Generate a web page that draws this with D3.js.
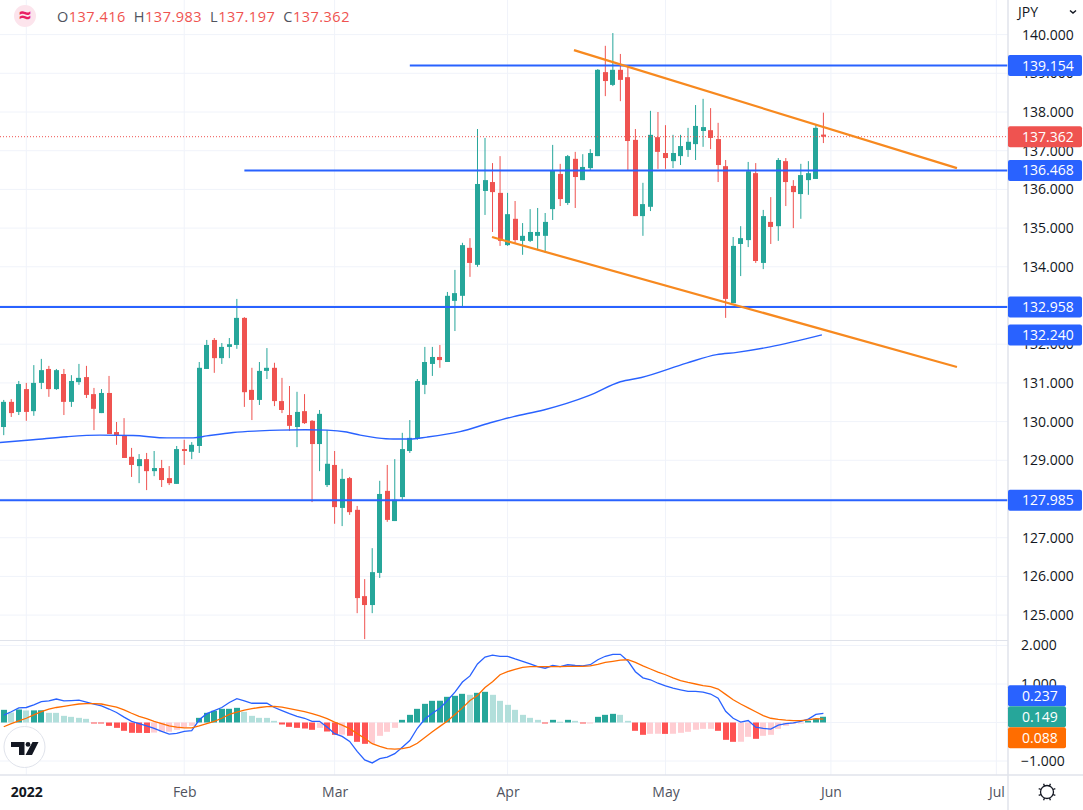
<!DOCTYPE html>
<html>
<head>
<meta charset="utf-8">
<title>JPY</title>
<script src="https://cdn.jsdelivr.net/npm/d3@7"></script>
<style>
html, body { margin: 0; padding: 0; background: #fff; }
svg { display: block; }
text { font-family: "Open Sans", sans-serif; }
</style>
</head>
<body>
<div id="chart"></div>
<script>
// Daily bars, first bar is three sessions before 3 Jan 2022
var firstBar = -3;
var opens = [
	129.86,130.51,130.25,130.84,130.27,131.00,131.36,130.84,131.23,130.51,
	131.02,131.15,130.71,130.22,130.74,129.73,129.65,129.09,128.85,129.03,
	128.72,128.80,128.54,128.39,129.29,129.22,129.37,131.36,132.11,131.64,
	131.93,131.98,132.68,130.82,130.56,131.31,131.39,130.53,130.17,129.86,
	130.27,130.02,129.42,128.36,128.88,127.77,128.54,127.72,125.49,125.26,
	126.09,128.21,127.43,128.05,129.24,129.55,130.95,131.49,131.67,131.54,
	133.12,133.25,134.49,134.05,135.96,136.19,135.91,134.56,135.24,134.67,
	134.67,134.80,134.80,135.49,136.40,135.65,136.79,136.24,136.55,136.86,
	139.03,138.70,139.09,138.90,137.28,135.31,135.55,137.35,136.94,136.73,
	136.86,137.02,137.17,137.51,137.53,137.30,136.60,133.06,134.59,134.69,
	136.42,134.10,135.16,135.05,136.73,136.09,135.88,136.24,136.27,137.416];
var highs = [
	130.56,130.58,131.05,131.00,131.46,131.62,131.44,131.36,131.36,131.20,
	131.49,131.44,130.87,130.84,131.18,129.99,130.09,129.32,129.16,129.19,
	129.24,129.01,128.85,129.37,129.53,129.47,131.54,132.11,132.16,132.03,
	132.16,133.17,132.70,131.39,131.54,131.90,131.52,131.13,130.92,130.77,
	130.71,130.04,130.30,129.78,129.24,128.78,128.57,127.82,125.93,126.73,
	128.47,128.88,129.03,129.71,130.04,131.10,131.93,131.93,131.98,133.35,
	133.92,134.62,134.74,137.56,137.33,136.68,136.86,135.91,135.70,135.13,
	135.49,135.52,135.39,137.15,136.66,136.89,136.97,136.91,137.04,139.11,
	139.71,140.04,139.50,139.19,137.56,136.17,138.03,138.00,137.66,137.41,
	137.41,137.59,138.18,138.34,138.10,137.72,136.76,134.77,135.05,136.71,
	136.68,135.47,135.80,136.81,136.81,136.24,136.66,136.73,137.69,137.983];
var lows = [
	129.65,130.12,130.17,130.02,130.15,130.84,130.64,130.82,130.17,130.38,
	130.95,130.61,129.78,130.22,129.68,129.40,129.06,128.57,128.41,128.23,
	128.59,128.31,128.36,128.39,128.88,129.03,129.19,131.36,131.26,131.49,
	131.64,131.88,130.38,130.04,130.43,131.10,130.40,130.22,129.76,129.34,
	129.94,127.92,128.72,128.31,127.36,127.30,127.59,125.05,124.38,125.05,
	125.96,127.41,127.43,127.98,129.19,129.53,130.71,131.18,131.39,131.54,
	132.34,132.96,133.74,134.00,135.34,134.90,134.54,134.54,134.59,134.31,
	134.64,134.43,134.36,135.21,135.57,135.60,135.52,136.24,136.50,136.86,
	138.41,138.67,138.28,136.50,135.31,134.80,135.44,136.53,136.53,136.55,
	136.63,136.84,136.76,137.10,137.04,136.19,132.68,133.06,133.76,134.51,
	134.10,133.94,134.59,134.67,135.57,135.00,135.24,135.86,136.27,137.197];
var closes = [
	130.51,130.22,130.97,130.25,131.00,131.33,130.84,131.33,130.51,131.05,
	131.13,130.69,130.33,130.74,129.68,129.63,129.06,128.88,129.03,128.72,
	128.80,128.49,128.41,129.29,129.24,129.40,131.39,131.98,131.64,131.93,
	132.00,132.68,130.76,130.56,131.31,131.39,130.53,130.30,129.89,130.25,
	129.96,129.42,130.20,128.91,127.79,128.52,127.66,125.44,125.26,126.11,
	128.13,127.46,127.98,129.29,129.58,131.05,131.54,131.67,131.59,133.25,
	133.32,134.56,134.10,136.14,136.24,135.93,134.67,135.36,134.69,134.80,
	134.90,134.90,135.16,136.48,135.75,136.86,136.32,136.58,136.94,139.09,
	138.80,139.09,138.83,137.25,135.31,135.62,137.41,136.97,136.81,136.94,
	137.12,137.23,137.64,137.61,137.33,136.63,133.17,134.54,134.74,136.47,
	134.15,135.31,135.03,136.76,136.19,135.93,136.37,136.42,137.59,137.362];

// Moving average on the price pane, read at the bends of the curve
var emaBars = [-3.5,0.9,5.4,9.8,14.2,18.7,22.2,24,27.5,31,33.7,37.1,40,42.6,44.4,46.6,48.8,51,53.3,57.7,61.7,64.8,68.8,74.8,79,81.8,87.8,91.8,94.5,98.9,105.8];
var emaValues = [129.46,129.53,129.61,129.65,129.64,129.58,129.58,129.63,129.72,129.76,129.78,129.79,129.78,129.73,129.65,129.58,129.55,129.55,129.60,129.74,129.97,130.13,130.30,130.67,131.03,131.14,131.51,131.73,131.79,131.93,132.24];

// MACD pane, one value per bar
var macdHist = [
	.329,.260,.338,.312,.315,.318,.251,.250,.173,.147,
	.121,.095,-.015,-.020,-.087,-.139,-.216,-.268,-.270,-.272,
	-.262,-.242,-.240,-.190,-.121,-.087,.121,.251,.303,.355,
	.356,.381,.277,.173,.121,.120,.043,-.052,-.113,-.139,
	-.156,-.190,-.139,-.234,-.320,-.315,-.346,-.502,-.554,-.550,
	-.346,-.242,-.139,.069,.199,.355,.485,.563,.565,.667,
	.693,.745,.719,.771,.797,.719,.563,.459,.329,.199,
	.121,.069,-.010,.069,.020,.069,.043,-.010,-.008,.147,
	.199,.225,.199,.043,-.216,-.320,-.294,-.292,-.296,-.292,
	-.268,-.242,-.190,-.165,-.164,-.216,-.450,-.502,-.500,-.372,
	-.424,-.346,-.320,-.165,-.087,-.035,-.009,.043,.095,.149];
var macdLine = [
	.19,.28,.38,.39,.46,.54,.56,.61,.56,.57,
	.58,.53,.48,.43,.35,.26,.14,.03,-.03,-.09,
	-.15,-.23,-.30,-.28,-.23,-.21,.07,.23,.31,.39,
	.52,.62,.56,.50,.50,.50,.39,.31,.23,.16,
	.11,.03,.03,-.12,-.29,-.36,-.49,-.75,-.97,-1.05,
	-.94,-.90,-.81,-.64,-.47,-.15,.09,.24,.37,.57,
	.79,1.05,1.21,1.52,1.70,1.75,1.72,1.72,1.65,1.59,
	1.52,1.45,1.41,1.48,1.45,1.50,1.48,1.47,1.50,1.63,
	1.72,1.77,1.77,1.60,1.32,1.16,1.11,1.02,.95,.89,
	.85,.81,.81,.79,.74,.63,.29,.11,.01,.05,
	-.12,-.15,-.17,-.07,-.03,-.01,.03,.09,.21,.237];
var signalLine = [
	-.11,-.03,.04,.11,.20,.28,.35,.39,.42,.45,
	.48,.49,.49,.48,.44,.40,.33,.24,.16,.10,
	.03,-.03,-.09,-.12,-.14,-.14,-.09,-.03,.03,.11,
	.21,.27,.32,.36,.39,.41,.42,.40,.36,.32,
	.28,.23,.17,.10,.01,-.07,-.16,-.29,-.41,-.55,
	-.62,-.68,-.69,-.68,-.64,-.54,-.39,-.24,-.10,.04,
	.21,.38,.57,.70,.91,1.06,1.24,1.32,1.38,1.43,
	1.45,1.45,1.45,1.45,1.45,1.46,1.46,1.46,1.47,1.51,
	1.56,1.59,1.62,1.63,1.56,1.47,1.39,1.31,1.24,1.16,
	1.09,1.04,1.00,.96,.93,.87,.73,.59,.48,.38,
	.28,.18,.11,.08,.06,.05,.05,.07,.10,.088];

// Drawn levels and trend lines, as they sit on the price scale
var levelValues = [139.20,136.49,132.96,127.97];
var levelStarts = [51,29,-4,-4];
var levelLabels = ["139.154","136.468","132.958","127.985"];
var trendBars = [[72.83,123.76],[61.93,123.76]];
var trendValues = [[139.60,136.55],[134.77,131.41]];
var lastClose = 137.362;
var emaLast = 132.240;
var macdLabels = ["0.237","0.149","0.088"];

// Grid rows, and the axis ticks that the labels do not cover
var priceGrid = [125,126,127,128,129,130,131,132,133,134,135,136,137,138,139,140];
var priceTicks = [125,126,127,129,130,131,132,134,135,136,137,138,139,140];
var macdGrid = [-1,0,1,2];
var macdTicks = [-1,1,2];
var monthBars = [0,21,41,64,85,107,129];
var monthNames = ["2022","Feb","Mar","Apr","May","Jun","Jul"];
var ohlcNames = ["O","H","L","C"];
var ohlcValues = ["137.416","137.983","137.197","137.362"];

var width = 1083, height = 810;
var axisX = 1008, timeY = 775, paneY = 640;
var upColor = "#26a69a", downColor = "#ef5350", blue = "#2962ff", orange = "#ff6d00", trendColor = "#f7891f";
var gridColor = "#f0f3fa", borderColor = "#e0e3eb", tickColor = "#131722";

var x = d3.scaleLinear().domain([0,106]).range([26.3,823.4]);
var y = d3.scaleLinear().domain([125,140]).range([615.1,34.6]);
var yMacd = d3.scaleLinear().domain([-1,2]).range([761,645.5]);

var svg = d3.select("#chart")
	.append("svg")
	.attr("width", width)
	.attr("height", height);

// Rows of the bars, built from the arrays above
var bars = opens.map(function(o, i){
	return {bar: firstBar + i, open: o, high: highs[i], low: lows[i], close: closes[i], hist: macdHist[i], macd: macdLine[i], signal: signalLine[i]};
});

// Grid
var grid = svg.append("g").attr("stroke", gridColor).attr("stroke-width", 1);
grid.selectAll("line.v").data(monthBars).enter().append("line")
	.attr("class", "v")
	.attr("x1", function(d){ return x(d); })
	.attr("x2", function(d){ return x(d); })
	.attr("y1", 0).attr("y2", timeY);
grid.selectAll("line.p").data(priceGrid).enter().append("line")
	.attr("class", "p")
	.attr("x1", 0).attr("x2", axisX)
	.attr("y1", function(d){ return y(d); })
	.attr("y2", function(d){ return y(d); });
grid.selectAll("line.m").data(macdGrid).enter().append("line")
	.attr("class", "m")
	.attr("x1", 0).attr("x2", axisX)
	.attr("y1", function(d){ return yMacd(d); })
	.attr("y2", function(d){ return yMacd(d); });

// Candles
var candleColor = function(d){ return d.close >= d.open ? upColor : downColor; };
svg.append("g").selectAll("line").data(bars).enter().append("line")
	.attr("x1", function(d){ return x(d.bar); })
	.attr("x2", function(d){ return x(d.bar); })
	.attr("y1", function(d){ return y(d.high); })
	.attr("y2", function(d){ return y(d.low); })
	.attr("stroke", candleColor)
	.attr("stroke-width", 1);
svg.append("g").selectAll("rect").data(bars).enter().append("rect")
	.attr("x", function(d){ return Math.round(x(d.bar) - 2.5); })
	.attr("width", 5)
	.attr("y", function(d){ return y(Math.max(d.open, d.close)); })
	.attr("height", function(d){ return Math.max(1, Math.abs(y(d.open) - y(d.close))); })
	.attr("fill", candleColor);

// Moving average
var emaPoints = emaBars.map(function(b, i){ return [b, emaValues[i]]; });
svg.append("path")
	.datum(emaPoints)
	.attr("d", d3.line().x(function(d){ return x(d[0]); }).y(function(d){ return y(d[1]); }).curve(d3.curveMonotoneX))
	.attr("fill", "none")
	.attr("stroke", blue)
	.attr("stroke-width", 1.4);

// Last price line
svg.append("line")
	.attr("x1", 0).attr("x2", axisX)
	.attr("y1", y(lastClose)).attr("y2", y(lastClose))
	.attr("stroke", downColor)
	.attr("stroke-width", 1)
	.attr("stroke-dasharray", "1,2");

// Horizontal levels
svg.append("g").selectAll("line").data(levelValues).enter().append("line")
	.attr("x1", function(d, i){ return x(levelStarts[i]); })
	.attr("x2", axisX)
	.attr("y1", function(d){ return y(d); })
	.attr("y2", function(d){ return y(d); })
	.attr("stroke", blue)
	.attr("stroke-width", 2);

// Trend lines
svg.append("g").selectAll("line").data(trendBars).enter().append("line")
	.attr("x1", function(d){ return x(d[0]); })
	.attr("x2", function(d){ return x(d[1]); })
	.attr("y1", function(d, i){ return y(trendValues[i][0]); })
	.attr("y2", function(d, i){ return y(trendValues[i][1]); })
	.attr("stroke", trendColor)
	.attr("stroke-width", 2.2);

// Histogram, tone depends on the sign and on the move from the bar before
var histColor = function(d, i){
	var prev = i > 0 ? macdHist[i-1] : -9;
	if(d.hist >= 0){ return d.hist >= prev ? "#26a69a" : "#b2dfdb"; }
	return d.hist > prev ? "#ffcdd2" : "#ff5252";
};
svg.append("g").selectAll("rect").data(bars).enter().append("rect")
	.attr("x", function(d){ return Math.round(x(d.bar) - 3); })
	.attr("width", 6)
	.attr("y", function(d){ return Math.min(yMacd(d.hist), yMacd(0)); })
	.attr("height", function(d){ return Math.max(1, Math.abs(yMacd(d.hist) - yMacd(0))); })
	.attr("fill", histColor);

var macdPath = d3.line().x(function(d){ return x(d.bar); });
svg.append("path")
	.datum(bars)
	.attr("d", macdPath.y(function(d){ return yMacd(d.macd); }))
	.attr("fill", "none")
	.attr("stroke", blue)
	.attr("stroke-width", 1.3);
svg.append("path")
	.datum(bars)
	.attr("d", macdPath.y(function(d){ return yMacd(d.signal); }))
	.attr("fill", "none")
	.attr("stroke", orange)
	.attr("stroke-width", 1.3);

// Watermark logo
var logo = svg.append("g");
logo.append("circle").attr("cx", 24.5).attr("cy", 747).attr("r", 20.5)
	.attr("fill", "#fff").attr("stroke", borderColor).attr("stroke-width", 1);
logo.append("path")
	.attr("d", "M11 742h13.5v13h-5.5v-8h-8zM32.5 742h6l-6.5 13h-6.5z")
	.attr("fill", tickColor);
logo.append("circle").attr("cx", 28).attr("cy", 744.4).attr("r", 2.4).attr("fill", tickColor);

// Pane borders
svg.append("rect").attr("x", 0).attr("y", paneY).attr("width", axisX).attr("height", 1).attr("fill", borderColor);
svg.append("rect").attr("x", axisX).attr("y", 0).attr("width", width - axisX).attr("height", height).attr("fill", "#fff");
svg.append("rect").attr("x", 0).attr("y", timeY + 1).attr("width", axisX).attr("height", height - timeY).attr("fill", "#fff");
svg.append("line").attr("x1", axisX).attr("x2", axisX).attr("y1", 0).attr("y2", height).attr("stroke", borderColor).attr("stroke-width", 1.5);
svg.append("line").attr("x1", 0).attr("x2", width).attr("y1", timeY).attr("y2", timeY).attr("stroke", borderColor).attr("stroke-width", 1.5);

// Price and MACD axes
var priceAxis = svg.append("g")
	.attr("transform", "translate(" + axisX + ",0)")
	.call(d3.axisRight(y).tickValues(priceTicks).tickFormat(d3.format(".3f")).tickSize(0).tickPadding(14));
var macdAxis = svg.append("g")
	.attr("transform", "translate(" + axisX + ",0)")
	.call(d3.axisRight(yMacd).tickValues(macdTicks).tickFormat(d3.format(".3f")).tickSize(0).tickPadding(13));
priceAxis.select(".domain").remove();
macdAxis.select(".domain").remove();
svg.selectAll(".tick text")
	.attr("font-family", '"Open Sans", sans-serif')
	.attr("font-size", 14)
	.attr("fill", tickColor);

// Time axis
var timeAxis = svg.append("g")
	.attr("transform", "translate(0," + timeY + ")")
	.call(d3.axisBottom(x).tickValues(monthBars).tickFormat(function(d, i){ return monthNames[i]; }).tickSize(0).tickPadding(12));
timeAxis.select(".domain").remove();
timeAxis.selectAll("text")
	.attr("font-family", '"Open Sans", sans-serif')
	.attr("font-size", 14)
	.attr("fill", "#50535e");
timeAxis.selectAll("text").filter(function(d, i){ return i == 0; })
	.attr("font-weight", 700)
	.attr("fill", tickColor);

// Labels on the price axis
function axisLabel(cy, text, color, w, h){
	svg.append("rect")
		.attr("x", axisX).attr("y", cy - h/2)
		.attr("width", w).attr("height", h)
		.attr("rx", 2)
		.attr("fill", color);
	svg.append("text")
		.attr("x", axisX + 14).attr("y", cy)
		.attr("dy", "0.36em")
		.attr("font-size", 14)
		.attr("fill", "#fff")
		.text(text);
}
levelValues.forEach(function(v, i){ axisLabel(y(v), levelLabels[i], blue, 74, 21); });
axisLabel(y(emaLast), d3.format(".3f")(emaLast), blue, 74, 21);
axisLabel(y(lastClose), d3.format(".3f")(lastClose), downColor, 74, 21);

// The MACD labels would collide, so they stack around the histogram value
var macdMid = yMacd(macdHist[macdHist.length-1]);
axisLabel(macdMid - 21, macdLabels[0], blue, 58, 21);
axisLabel(macdMid, macdLabels[1], upColor, 58, 21);
axisLabel(macdMid + 21, macdLabels[2], orange, 58, 21);

// Currency and gear
svg.append("text").attr("x", 1018).attr("y", 17).attr("font-size", 14).attr("fill", tickColor).text("JPY");
svg.append("path").attr("d", "M1070 10.5l3 2.5 3-2.5").attr("fill", "none").attr("stroke", tickColor).attr("stroke-width", 1.5);
var gear = svg.append("g").attr("transform", "translate(1047,792)").attr("stroke", tickColor).attr("fill", "none");
gear.append("circle").attr("r", 6.5).attr("stroke-width", 1.3);
d3.range(8).forEach(function(k){
	var a = k * Math.PI / 4 + Math.PI / 8;
	gear.append("line")
		.attr("x1", 6.5 * Math.cos(a)).attr("y1", 6.5 * Math.sin(a))
		.attr("x2", 9 * Math.cos(a)).attr("y2", 9 * Math.sin(a))
		.attr("stroke-width", 1.3);
});

// Legend top left
svg.append("circle").attr("cx", 25).attr("cy", 16).attr("r", 11).attr("fill", "#fce4ec");
svg.append("text").attr("x", 25).attr("y", 23).attr("text-anchor", "middle")
	.attr("font-size", 22).attr("font-weight", 700).attr("fill", "#e91e63").text("\u2248");
var legend = svg.append("text").attr("x", 57).attr("y", 22).attr("font-size", 14.5).attr("letter-spacing", 0.5);
ohlcNames.forEach(function(n, i){
	legend.append("tspan").attr("fill", "#50535e").attr("dx", i ? 8 : 0).text(n);
	legend.append("tspan").attr("fill", downColor).text(ohlcValues[i]);
});
</script>
</body>
</html>
